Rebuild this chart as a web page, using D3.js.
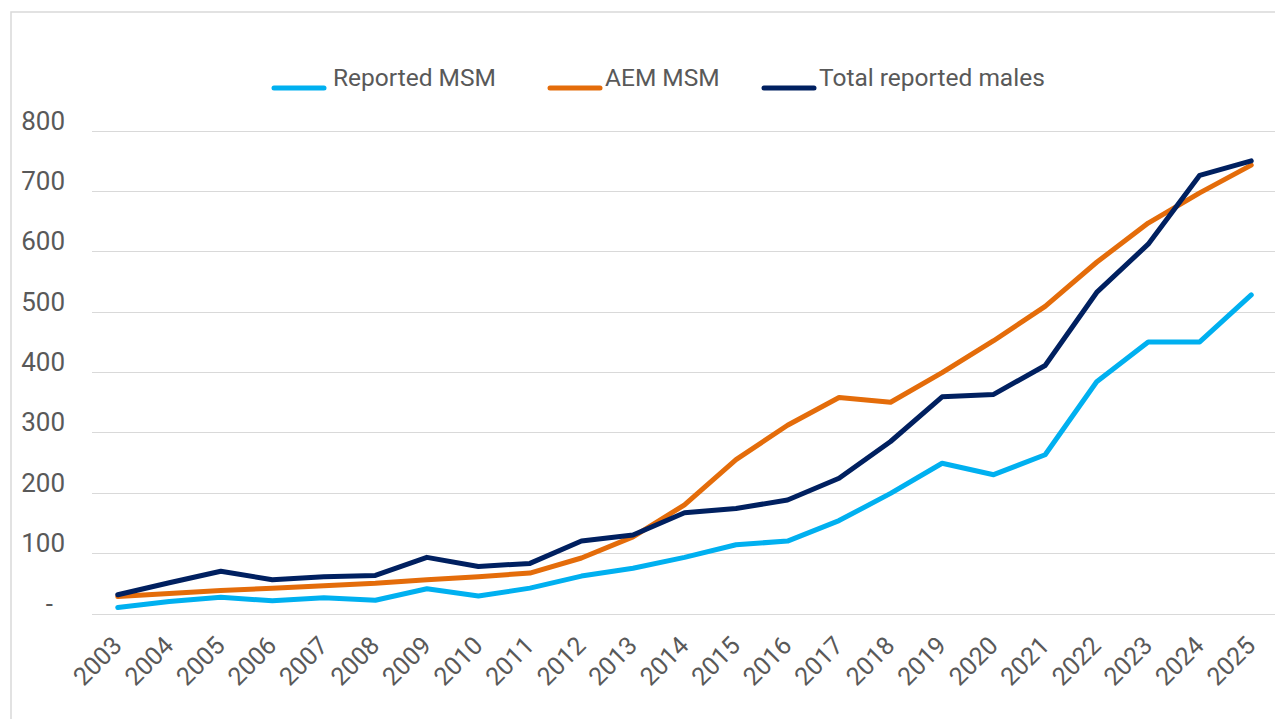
<!DOCTYPE html>
<html lang="en">
<head>
<meta charset="UTF-8">
<title>Reported MSM vs AEM MSM</title>
<script src="https://cdn.jsdelivr.net/npm/d3@7"></script>
<style>
	body{margin:0;background:#fff;font-family:Roboto,"Open Sans",sans-serif;}
	.grid line{stroke:#d9d9d9;stroke-width:1.5px;shape-rendering:crispEdges;}
	.axis text{fill:#595959;font-size:25px;font-family:Roboto,"Open Sans",sans-serif;}
	.y.axis text{font-size:26px;}
	.axis path,.axis line{display:none;}
	.line{fill:none;stroke-width:5px;stroke-linejoin:round;stroke-linecap:round;}
	.legend text{fill:#595959;font-size:24.5px;font-family:Roboto,"Open Sans",sans-serif;}
</style>
</head>
<body>
<script>
// years on the category axis
var years = ["2003","2004","2005","2006","2007","2008","2009","2010","2011","2012","2013","2014",
	"2015","2016","2017","2018","2019","2020","2021","2022","2023","2024","2025"];
// series
var reportedMSM = [10,20,27,21,26,22,41,29,42,62,75,93,114,120,154,199,249,230,263,384,450,450,528];
var aemMSM      = [28,33,38,42,46,50,56,61,67,92,127,180,255,312,358,350,399,452,509,582,647,697,743];
var totalMales  = [31,51,70,56,61,63,93,78,83,120,130,167,174,188,224,285,359,363,411,532,612,726,750];
var yTicks = [0,100,200,300,400,500,600,700,800];

var seriesNames  = ["Reported MSM","AEM MSM","Total reported males"];
var seriesColors = ["#00b0f0","#e46c0a","#002060"];
var seriesValues = [reportedMSM, aemMSM, totalMales];

var W = 1275, H = 719;
var svg = d3.select("body").append("svg").attr("width",W).attr("height",H);

// outer frame (only left and top edges fall inside the picture)
svg.append("rect")
	.attr("x",11).attr("y",12).attr("width",W+20).attr("height",H+20)
	.attr("fill","none").attr("stroke","#d9d9d9").attr("stroke-width",1.5);

var x = d3.scalePoint().domain(years).range([92,1277]).padding(0.5);
var y = d3.scaleLinear().domain([0,800]).range([613.5,130.7]);

// horizontal gridlines
svg.append("g").attr("class","grid")
	.selectAll("line").data(yTicks).enter().append("line")
	.attr("x1",92).attr("x2",W)
	.attr("y1",function(d){return Math.round(y(d))+0.5;})
	.attr("y2",function(d){return Math.round(y(d))+0.5;});

// y axis labels, zero shown as a dash (accounting style, sits further left)
svg.append("g").attr("class","y axis")
	.attr("transform","translate(73,0)")
	.call(d3.axisLeft(y).tickValues(yTicks).tickSize(0).tickPadding(8)
		.tickFormat(function(d){return d===0 ? "-" : d;}))
	.selectAll("text")
	.attr("dy","-1.5px")
	.attr("dx",function(d){return d===0 ? "-12px" : 0;});

// x axis labels, rotated
var xg = svg.append("g").attr("class","x axis")
	.attr("transform","translate(0,628)")
	.call(d3.axisBottom(x).tickSize(0).tickPadding(0));
xg.selectAll("text")
	.attr("text-anchor","end")
	.attr("dy","0.35em")
	.attr("transform","translate(-1,13) rotate(-45)");

// lines
var line = d3.line()
	.x(function(d,i){return x(years[i]);})
	.y(function(d){return y(d);});

seriesValues.forEach(function(vals,k){
	svg.append("path")
		.datum(vals)
		.attr("class","line")
		.attr("stroke",seriesColors[k])
		.attr("d",line);
});

// legend
var legendX = [272,548,762];
var lg = svg.append("g").attr("class","legend");
seriesNames.forEach(function(name,k){
	var g = lg.append("g").attr("transform","translate("+legendX[k]+",0)");
	g.append("line").attr("x1",2).attr("x2",52).attr("y1",88).attr("y2",88)
		.attr("stroke",seriesColors[k]).attr("stroke-width",5).attr("stroke-linecap","round");
	g.append("text").attr("x",k===0 ? 61 : 57).attr("y",86).text(name);
});
</script>
</body>
</html>
